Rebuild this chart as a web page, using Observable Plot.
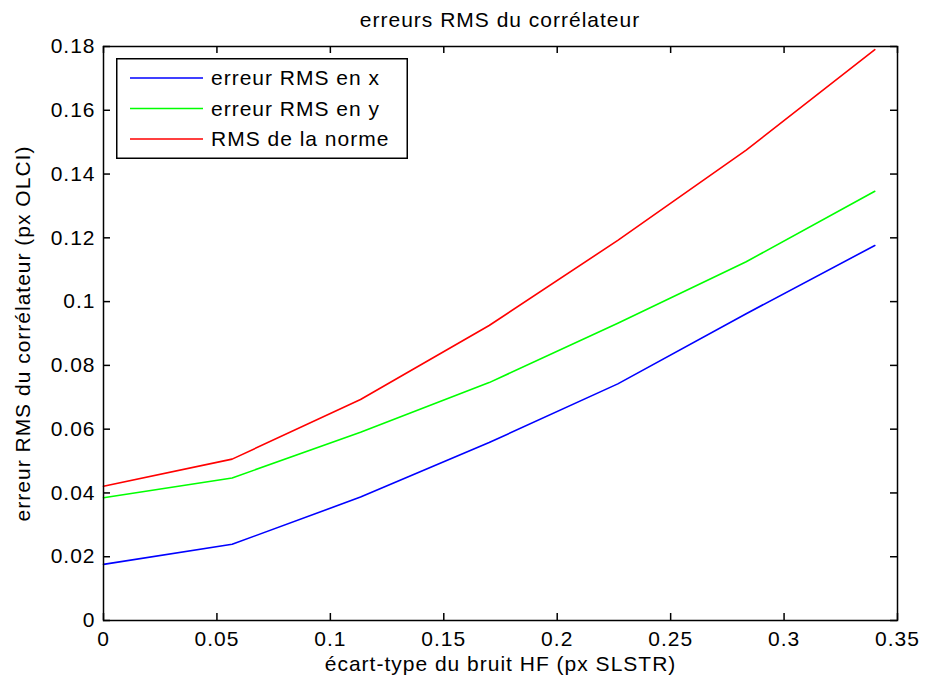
<!DOCTYPE html>
<html>
<head>
<meta charset="utf-8">
<script src="https://cdn.jsdelivr.net/npm/d3@7"></script>
<script src="https://cdn.jsdelivr.net/npm/@observablehq/plot@0.6"></script>
<style>
  body { margin: 0; background: #fff; }
  #wrap { position: relative; width: 925px; height: 682px; font-family: "Liberation Sans", Arial, sans-serif; }
  #title { position: absolute; left: 103px; top: 3px; width: 794px; height: 33px; text-align: center; font-size: 21px; letter-spacing: 1px; line-height: 33px; color: #000; }
  #legend { position: absolute; left: 116px; top: 58px; }
</style>
</head>
<body>
<div id="wrap">
  <div id="chart"></div>
  <div id="title"></div>
  <div id="legend"></div>
</div>
<script>
const titleText = "erreurs RMS du corrélateur";
const xLabel = "écart-type du bruit HF (px SLSTR)";
const yLabel = "erreur RMS du corrélateur (px OLCI)";

const noiseStd = [0, 0.0567, 0.1133, 0.17, 0.2267, 0.2833, 0.34];
const rmsX    = [0.0176, 0.0239, 0.0387, 0.0558, 0.0742, 0.0962, 0.1176];
const rmsY    = [0.0385, 0.0447, 0.0590, 0.0746, 0.0932, 0.1125, 0.1346];
const rmsNorm = [0.0421, 0.0506, 0.0693, 0.0925, 0.1192, 0.1475, 0.1790];

const seriesNames = ["erreur RMS en x", "erreur RMS en y", "RMS de la norme"];
const seriesColors = ["#0000ff", "#00ff00", "#ff0000"];
const seriesValues = [rmsX, rmsY, rmsNorm];

const xTicks = [0, 0.05, 0.1, 0.15, 0.2, 0.25, 0.3, 0.35];
const yTicks = [0, 0.02, 0.04, 0.06, 0.08, 0.1, 0.12, 0.14, 0.16, 0.18];

const rows = [];
seriesNames.forEach((name, i) => {
  noiseStd.forEach((x, j) => rows.push({series: name, x, y: seriesValues[i][j]}));
});

const W = 925, Hsvg = 682;
const mT = 46, mB = 62, mL = 103, mR = 28;
const innerH = Hsvg - mT - mB, innerW = W - mL - mR;
const tickLen = 7;
const fmt = d => String(d);
const font = {fontSize: 21, fontFamily: "Liberation Sans, Arial, sans-serif"};

document.getElementById("title").textContent = titleText;

const chart = Plot.plot({
  width: W,
  height: Hsvg,
  marginTop: mT,
  marginBottom: mB,
  marginLeft: mL,
  marginRight: mR,
  style: {fontSize: "21px", fontFamily: "Liberation Sans, Arial, sans-serif", color: "#000", background: "#fff", letterSpacing: "1px"},
  x: {domain: [0, 0.35]},
  y: {domain: [0, 0.18]},
  color: {domain: seriesNames, range: seriesColors},
  marks: [
    Plot.line(rows, {x: "x", y: "y", z: "series", stroke: "series", strokeWidth: 1.6}),
    Plot.tickX(xTicks, {x: d => d, insetTop: innerH - tickLen, stroke: "#000", strokeWidth: 1.5}),
    Plot.tickX(xTicks, {x: d => d, insetBottom: innerH - tickLen, stroke: "#000", strokeWidth: 1.5}),
    Plot.tickY(yTicks, {y: d => d, insetRight: innerW - tickLen, stroke: "#000", strokeWidth: 1.5}),
    Plot.tickY(yTicks, {y: d => d, insetLeft: innerW - tickLen, stroke: "#000", strokeWidth: 1.5}),
    Plot.frame({stroke: "#000", strokeWidth: 1.5}),
    Plot.axisX({ticks: xTicks, tickFormat: fmt, tickSize: 0, tickPadding: 11, label: null, ...font}),
    Plot.axisY({ticks: yTicks, tickFormat: fmt, tickSize: 0, tickPadding: 8, label: null, ...font}),
    Plot.text([xLabel], {text: d => d, frameAnchor: "bottom", textAnchor: "middle", lineAnchor: "middle", dy: 44, ...font}),
    Plot.text([yLabel], {text: d => d, frameAnchor: "left", textAnchor: "middle", lineAnchor: "middle", rotate: -90, dx: -80, ...font})
  ]
});
document.getElementById("chart").appendChild(chart);

// legend
const ns = "http://www.w3.org/2000/svg";
const lg = document.createElementNS(ns, "svg");
const lw = 292, lh = 101;
lg.setAttribute("width", lw);
lg.setAttribute("height", lh);
const box = document.createElementNS(ns, "rect");
box.setAttribute("x", 0.75); box.setAttribute("y", 0.75);
box.setAttribute("width", lw - 1.5); box.setAttribute("height", lh - 1.5);
box.setAttribute("fill", "#fff"); box.setAttribute("stroke", "#000"); box.setAttribute("stroke-width", 1.5);
lg.appendChild(box);
seriesNames.forEach((name, i) => {
  const cy = 20 + i * 30.5;
  const ln = document.createElementNS(ns, "line");
  ln.setAttribute("x1", 14); ln.setAttribute("x2", 87);
  ln.setAttribute("y1", cy); ln.setAttribute("y2", cy);
  ln.setAttribute("stroke", seriesColors[i]); ln.setAttribute("stroke-width", 1.6);
  lg.appendChild(ln);
  const t = document.createElementNS(ns, "text");
  t.setAttribute("x", 95); t.setAttribute("y", cy);
  t.setAttribute("dy", "0.35em");
  t.setAttribute("font-size", 21);
  t.setAttribute("letter-spacing", "1px");
  t.setAttribute("font-family", "Liberation Sans, Arial, sans-serif");
  t.textContent = name;
  lg.appendChild(t);
});
document.getElementById("legend").appendChild(lg);
</script>
</body>
</html>
